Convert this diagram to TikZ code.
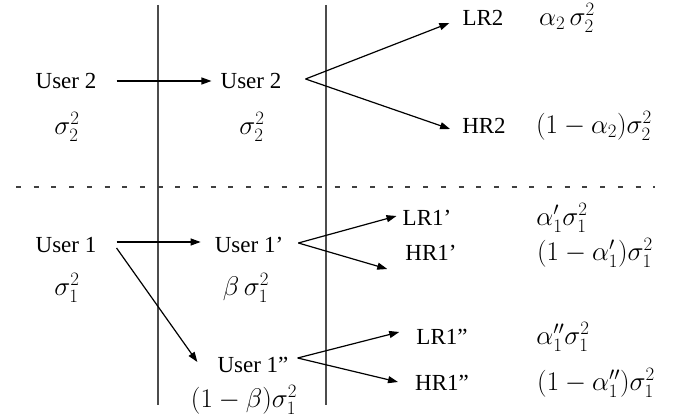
\documentclass[tikz,border=0pt]{standalone}
\usepackage{fix-cm}
\usepackage{fontspec}
\setmainfont{Liberation Serif}
\usetikzlibrary{arrows.meta,calc}
\begin{document}
\begin{tikzpicture}[x=1pt,y=-1pt,
  lbl/.style={inner sep=0pt, font=\fontsize{23}{27}\selectfont},
  mlbl/.style={inner sep=0pt, font=\fontsize{27}{32}\selectfont},
  arr/.style={line width=1.2pt, -{Triangle[length=10pt,width=7pt]}},
  seprule/.style={line width=2pt, black!70},
  dashrule/.style={line width=1.5pt, black!75, dash pattern=on 5pt off 12.7pt},
  ]
\useasboundingbox (0,0) rectangle (679,419);
% separators
\draw[seprule] (158,5) -- (158,405);
\draw[seprule] (326,5) -- (326,405);
\draw[dashrule] (16,187) -- (655,187);
% upper part
\node[lbl] (u2a) at (66,81) {User 2};
\node[mlbl] (s2a) at (67,127) {$\sigma_2^2$};
\node[lbl] (u2b) at (251,81) {User 2};
\node[mlbl] (s2b) at (252,127) {$\sigma_2^2$};
\node[lbl] (lr2) at (483,18) {LR2};
\node[lbl] (hr2) at (484,126) {HR2};
\node[mlbl] (a2) at (567,18) {$\alpha_2\,\sigma_2^2$};
\node[mlbl] (b2) at (594,126) {$(1-\alpha_2)\sigma_2^2$};
% lower part
\node[lbl] (u1) at (66,245) {User 1};
\node[mlbl] (s1) at (67,288) {$\sigma_1^2$};
\node[lbl] (u1p) at (249,245) {User 1'};
\node[mlbl] (bp) at (246,288) {$\beta\,\sigma_1^2$};
\node[lbl] (u1pp) at (253,365) {User 1''};
\node[mlbl] (bpp) at (244,400) {$(1-\beta)\sigma_1^2$};
\node[lbl] (lr1p) at (427,218) {LR1'};
\node[lbl] (hr1p) at (431,253) {HR1'};
\node[lbl] (lr1pp) at (442,337) {LR1''};
\node[lbl] (hr1pp) at (442,383) {HR1''};
\node[mlbl] (a1p) at (562,218) {$\alpha_1'\sigma_1^2$};
\node[mlbl] (b1p) at (595,253) {$(1-\alpha_1')\sigma_1^2$};
\node[mlbl] (a1pp) at (563,337) {$\alpha_1''\sigma_1^2$};
\node[mlbl] (b1pp) at (596,383) {$(1-\alpha_1'')\sigma_1^2$};
% connectors
\draw[arr] ($(u2a.east)+(20,0)$) -- ($(u2b.west)+(-9,0)$);
\draw[arr] ($(u2b.east)+(24,-2)$) -- ($(lr2.west)+(-13,5)$);
\draw[arr] ($(u2b.east)+(24,-2)$) -- ($(hr2.west)+(-12,3)$);
\draw[arr] ($(u1.east)+(20,-3)$) -- ($(u1p.west)+(-14,-3)$);
\draw[arr] ($(u1.east)+(20,3)$) -- ($(u1pp.west)+(-20,-3)$);
\draw[arr] ($(u1p.east)+(15,-2)$) -- ($(lr1p.west)+(-6,-2)$);
\draw[arr] ($(u1p.east)+(15,-2)$) -- ($(hr1p.west)+(-18,16)$);
\draw[arr] ($(u1pp.east)+(9,-7)$) -- ($(lr1pp.west)+(-17,-5)$);
\draw[arr] ($(u1pp.east)+(9,-7)$) -- ($(hr1pp.west)+(-17,-1)$);
\end{tikzpicture}
\end{document}
